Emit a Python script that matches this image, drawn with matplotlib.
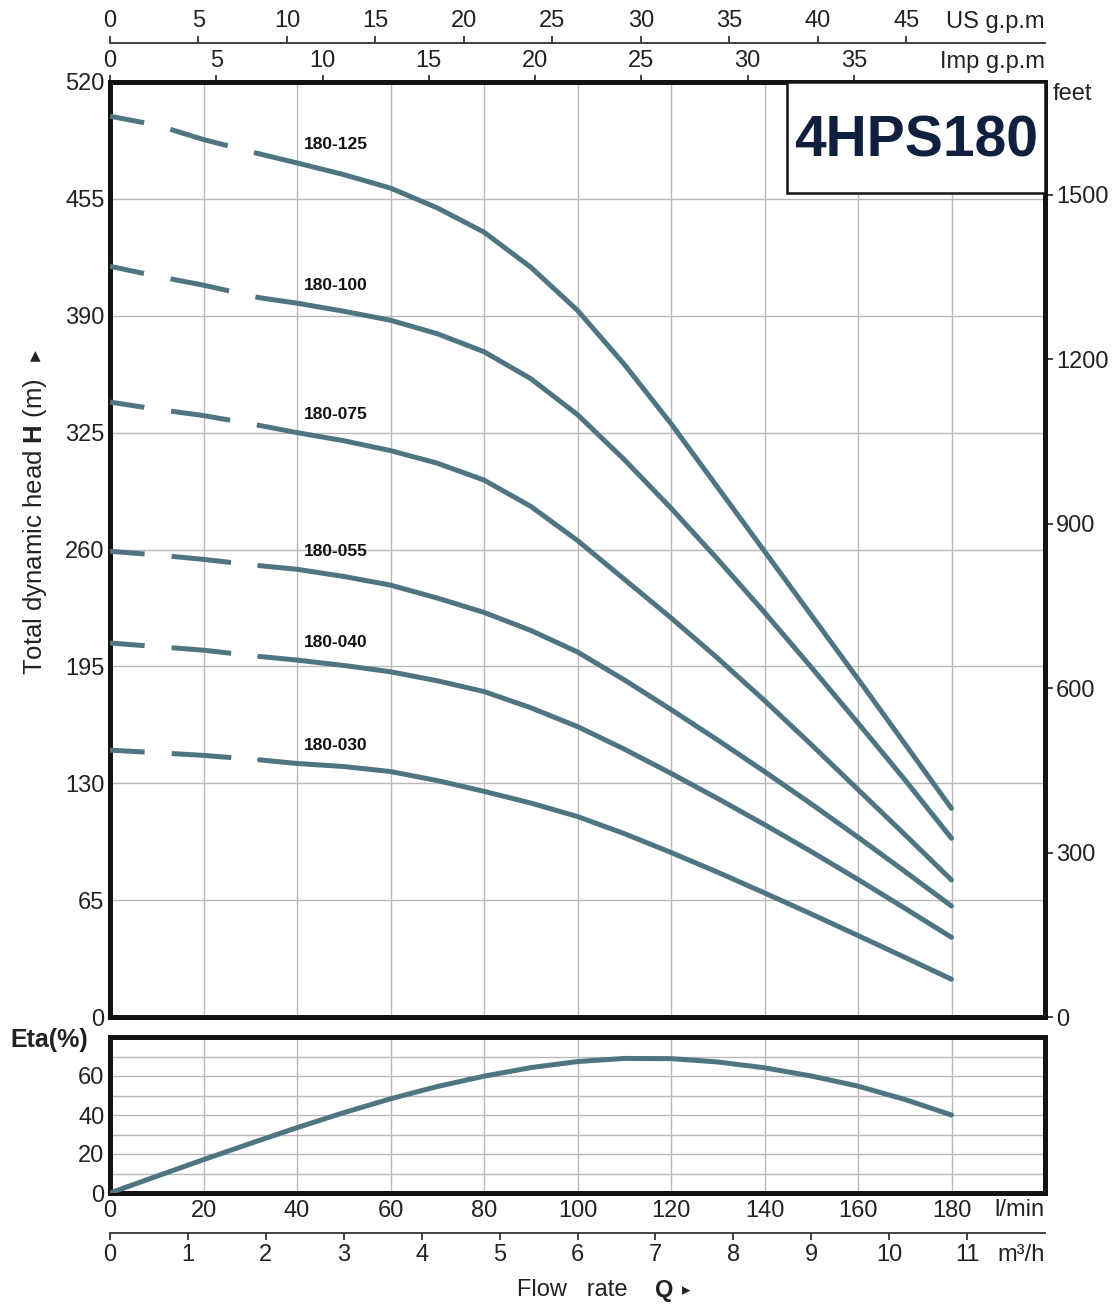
import matplotlib
matplotlib.use("Agg")
import matplotlib.pyplot as plt
from matplotlib.patches import Rectangle

plt.rcParams['font.family'] = ['Liberation Sans', 'DejaVu Sans']
plt.rcParams['mathtext.fontset'] = 'custom'
plt.rcParams['mathtext.rm'] = 'Liberation Sans'
plt.rcParams['mathtext.bf'] = 'Liberation Sans:bold'
plt.rcParams['lines.scale_dashes'] = False
plt.rcParams['text.color'] = '#222222'
plt.rcParams['xtick.color'] = '#222222'
plt.rcParams['ytick.color'] = '#222222'

# flow rate (l/min) where the head curves were read
flow = [0, 10, 20, 32, 40, 50, 60, 70, 80, 90, 100, 110, 120, 130, 140, 150, 160, 170, 180]
dash_end = 32  # curves are dashed below this flow

models = ["180-125", "180-100", "180-075", "180-055", "180-040", "180-030"]
head_125 = [501, 496, 488, 480, 475, 468.5, 461, 450, 436.5, 417, 393, 363, 330, 294.5, 259, 223.5, 188, 152, 116]
head_100 = [417.5, 412, 407, 400, 397, 392.5, 387.5, 380, 370, 355, 335, 310, 283, 254.5, 225, 194.5, 163.5, 132, 99.4]
head_075 = [342, 338, 334.5, 329, 325, 320.5, 315, 308, 298.6, 284, 265, 243.5, 222, 199.5, 176, 151.5, 126.5, 101.5, 76.2]
head_055 = [259, 257, 254.5, 251, 249, 245, 240.2, 233, 225, 215, 203, 187.5, 171, 154, 136.5, 118.5, 100, 81, 61.7]
head_040 = [208, 206, 204, 200.5, 198.5, 195.5, 192, 187, 181, 172, 161.5, 149, 135.5, 121.5, 107, 92, 76.5, 60.5, 44.3]
head_030 = [148.4, 147, 145.5, 143, 141, 139.3, 136.5, 131.5, 125.5, 119, 111.5, 102, 91.5, 80.5, 69, 57.3, 45.3, 33.2, 21]
heads = [head_125, head_100, head_075, head_055, head_040, head_030]

# efficiency curve
eta_flow = [0, 10, 20, 30, 40, 50, 60, 70, 80, 90, 100, 110, 120, 130, 140, 150, 160, 170, 180]
eta = [0, 8.6, 17.1, 25.4, 33.5, 41.2, 48.3, 54.6, 59.9, 64.3, 67.4, 69, 68.9, 67.2, 64.2, 60, 54.8, 48, 40]

head_ticks = list(range(0, 521, 65))
feet_ticks = list(range(0, 1501, 300))
lmin_ticks = list(range(0, 181, 20))
m3h_ticks = list(range(0, 12))
us_ticks = list(range(0, 46, 5))
imp_ticks = list(range(0, 36, 5))
eta_ticks = [0, 20, 40, 60]

CURVE = '#4f7582'
GRID = '#b9b9b9'
FRAME = '#161412'
W, H = 1119, 1306
FS = 17


def box(l, t, r, b):
    return [l / W, 1 - b / H, (r - l) / W, (b - t) / H]


fig = plt.figure(figsize=(W / 100, H / 100), dpi=100)
ax = fig.add_axes(box(110, 82, 1045, 1017))
ax_eta = fig.add_axes(box(110, 1037, 1045, 1193))

# ---- head curves ----
for name, h in zip(models, heads):
    k = flow.index(dash_end)
    ax.plot(flow[:k + 1], h[:k + 1], color=CURVE, lw=3.6,
            linestyle=(0, (25, 19.5, 43, 19.5)), dash_capstyle='butt', zorder=3)
    ax.plot(flow[k:], h[k:], color=CURVE, lw=3.6, solid_capstyle='round',
            solid_joinstyle='round', zorder=3)
    ax.text(41.5, h[flow.index(40)] + 10, name, fontsize=12.5, fontweight='bold',
            va='center', ha='left', color='#111111', zorder=4)

ax.set_xlim(0, 200)
ax.set_ylim(0, 520)
ax.set_xticks(range(0, 201, 20))
ax.set_yticks(head_ticks)
ax.grid(color=GRID, lw=1.0, zorder=0)
ax.tick_params(axis='x', length=0, labelbottom=False)
ax.tick_params(axis='y', length=0, labelsize=FS, pad=4)
for s in ax.spines.values():
    s.set_linewidth(3.6)
    s.set_color(FRAME)

# Imp g.p.m along the top frame
sec_imp = ax.secondary_xaxis('top', functions=(lambda q: q / 4.54609, lambda g: g * 4.54609))
sec_imp.set_xticks(imp_ticks)
sec_imp.tick_params(length=5, width=1.2, pad=2, labelsize=FS)
sec_imp.spines['top'].set_visible(False)

# US g.p.m on its own line above
sec_us = ax.secondary_xaxis(1 + 39 / 935, functions=(lambda q: q / 3.78541, lambda g: g * 3.78541))
sec_us.set_xticks(us_ticks)
sec_us.tick_params(length=5, width=1.2, pad=3, labelsize=FS)
sec_us.spines['top'].set_linewidth(1.3)
sec_us.spines['top'].set_color('#333333')

# feet on the right
sec_ft = ax.secondary_yaxis('right', functions=(lambda m: m * 3.28084, lambda f: f / 3.28084))
sec_ft.set_yticks(feet_ticks)
sec_ft.tick_params(length=6, width=1.2, pad=2, labelsize=FS)
sec_ft.spines['right'].set_visible(False)

# model title box
ax.add_patch(Rectangle((0.724, 0.8813), 0.276, 0.1187, transform=ax.transAxes,
                       facecolor='white', edgecolor=FRAME, lw=1.8, zorder=5))
ax.text(0.862, 0.936, "4HPS180", transform=ax.transAxes, fontsize=41, fontweight='bold',
        color='#0f1f3d', ha='center', va='center', zorder=6)

# ---- efficiency ----
ax_eta.plot(eta_flow, eta, color=CURVE, lw=3.6, solid_capstyle='round',
            solid_joinstyle='round', zorder=3)
ax_eta.set_xlim(0, 200)
ax_eta.set_ylim(0, 80)
ax_eta.set_xticks(lmin_ticks)
ax_eta.set_yticks(eta_ticks)
ax_eta.set_yticks(range(0, 80, 10), minor=True)
ax_eta.grid(axis='x', color=GRID, lw=1.0, zorder=0)
ax_eta.grid(axis='y', which='both', color=GRID, lw=1.0, zorder=0)
ax_eta.tick_params(which='both', length=0)
ax_eta.tick_params(axis='x', labelsize=FS, pad=5)
ax_eta.tick_params(axis='y', labelsize=FS, pad=4)
for s in ax_eta.spines.values():
    s.set_linewidth(3.6)
    s.set_color(FRAME)

sec_m3h = ax_eta.secondary_xaxis(-40 / 156, functions=(lambda q: q * 0.06, lambda m: m / 0.06))
sec_m3h.set_xticks(m3h_ticks)
sec_m3h.tick_params(length=5, width=1.2, pad=3, labelsize=FS)
sec_m3h.spines['bottom'].set_linewidth(1.3)
sec_m3h.spines['bottom'].set_color('#333333')

# ---- unit labels and titles ----
fig.text(1045 / W, 1 - 22 / H, "US g.p.m", fontsize=FS, ha='right', va='center')
fig.text(1045 / W, 1 - 62 / H, "Imp g.p.m", fontsize=FS, ha='right', va='center')
fig.text(1053 / W, 1 - 94 / H, "feet", fontsize=FS, ha='left', va='center')
fig.text(1045 / W, 1 - 1210 / H, "l/min", fontsize=FS, ha='right', va='center')
fig.text(1045 / W, 1 - 1255 / H, "m³/h", fontsize=FS, ha='right', va='center')
fig.text(10 / W, 1 - 1040 / H, "Eta(%)", fontsize=18, fontweight='bold', ha='left', va='center')

fig.text(35 / W, 1 - 527 / H, r"Total dynamic head $\mathbf{H}$ (m)", fontsize=18.5,
         rotation=90, ha='center', va='center')
fig.text(35 / W, 1 - 355 / H, "▲", fontsize=10, ha='center', va='center',
         family=['DejaVu Sans'])

fig.text(517 / W, 1 - 1290 / H, "Flow   rate", fontsize=FS, ha='left', va='center')
fig.text(655 / W, 1 - 1290 / H, "Q", fontsize=FS, fontweight='bold', ha='left', va='center')
fig.text(682 / W, 1 - 1290 / H, "▸", fontsize=12, ha='left', va='center',
         family=['DejaVu Sans'])

fig.savefig("out.png", dpi=100, facecolor='white')
